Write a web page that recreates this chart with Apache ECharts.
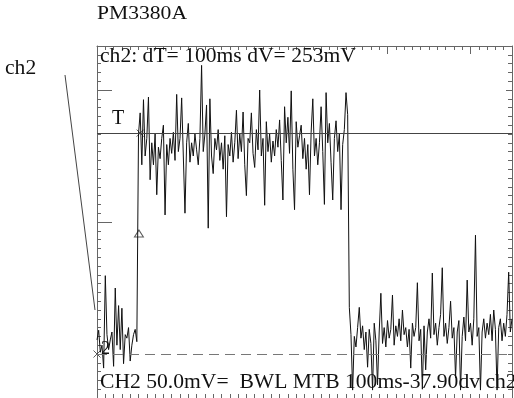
<!DOCTYPE html>
<html><head><meta charset="utf-8">
<script src="https://cdn.jsdelivr.net/npm/echarts@6/dist/echarts.min.js"></script>
<style>html,body{margin:0;padding:0;background:#fff}#c{width:514px;height:398px}</style>
</head><body><div id="c"></div>
<script>
// ---- data (mV, sampled every 4 ms, 100 ms/div, 50 mV/div) ----
const SAMPLE_MS = 4;
const preTrigger = [16, 27, 2, 10, -16, 89, 22, 5, 16, 25, -14, 75, 10, 55, 5, 52, -11, 22, 18, 30, -8, 10, 22, 28, 14];
const highLevel = [
  250, 274, 215, 289, 225, 245, 292, 198, 240, 215,
  250, 181, 235, 222, 245, 260, 158, 238, 215, 245,
  228, 252, 220, 295, 230, 245, 291, 225, 160, 240,
  262, 218, 240, 225, 250, 232, 215, 245, 328, 230,
  250, 283, 143, 290, 225, 205, 245, 232, 255, 220,
  240, 210, 248, 156, 238, 225, 252, 218, 240, 277,
  222, 250, 230, 275, 215, 180, 245, 240, 274, 228,
  212, 255, 232, 300, 225, 245, 169, 264, 230, 250,
  218, 242, 225, 255, 235, 266, 220, 175, 281, 240,
  269, 228, 299, 210, 164, 264, 235, 248, 260, 222,
  245, 210, 238, 181, 252, 290, 225, 245, 215, 240,
  281, 230, 170, 297, 240, 262, 218, 175, 245, 265,
  230, 250, 164, 238, 255, 297, 272
];
const lowLevel = [
  53, 22, -41, 20, 8, 30, 53, 18, 32, 5,
  25, -15, 28, 12, -41, 35, 15, -35, 25, 69,
  12, 30, 8, 38, 18, 28, 67, 10, 32, 20,
  40, 15, 50, 22, 30, 8, 28, -16, 35, 20,
  30, 81, 15, 28, -40, 32, -18, 25, 40, 18,
  92, 22, 35, 10, 30, 45, 98, 20, 35, 12,
  30, 60, 18, 30, -27, 25, 38, -41, 20, 42,
  15, 84, 25, 35, 10, 40, 135, 20, 30, -41,
  25, 40, 18, 35, 22, 45, 15, 50, 28, -41,
  30, 40, 15, 35, 20, 45, 93, 25, 40
];
const triggerLevelMv = 251;
const groundLevelMv = 0;
const groundMarker = [0, 0];
const cursorMarker = [104, 251];
const triggerMarker = [101, 137];
const longTopTicks = [700, 900];
const longLeftTicks = [150, 300];
const longRightTicks = [300];

const trace = preTrigger.concat(highLevel, lowLevel).map((v, i) => [i * SAMPLE_MS, v]);

const chart = echarts.init(document.getElementById('c'), null, {renderer: 'canvas'});
const tickColor = '#666';
const serif = '"Liberation Serif", "Times New Roman", serif';
function baseAxis(pos, min, max, interval, len, custom) {
  const tick = {show: true, inside: true, length: len, lineStyle: {color: tickColor, width: 1}};
  if (custom) tick.customValues = custom;
  return {
    type: 'value', position: pos, min: min, max: max, interval: interval,
    axisLine: {show: !custom, onZero: false, lineStyle: {color: tickColor, width: 1}},
    axisTick: tick,
    minorTick: {show: false},
    axisLabel: {show: false}, splitLine: {show: false}
  };
}
const xAx = (pos, len, custom) => baseAxis(pos, 0, 1000, 20, len, custom);
const yAx = (pos, len, custom) => baseAxis(pos, -50, 350, 10, len, custom);
function txt(x, y, s, size, sx) {
  return {type: 'text', x: x, y: y, scaleX: sx, z: 10,
    style: {text: s, fontFamily: serif, fontSize: size, fill: '#111', verticalAlign: 'middle', align: 'left'}};
}
chart.setOption({
  animation: false,
  backgroundColor: '#fff',
  grid: {left: 97, top: 46, right: 2, bottom: 0, containLabel: false},
  xAxis: [xAx('bottom', 4), xAx('top', 4), xAx('top', 8, longTopTicks)],
  yAxis: [yAx('left', 4), yAx('right', 4), yAx('left', 15, longLeftTicks), yAx('right', 6, longRightTicks)],
  series: [
    {
      type: 'line', data: trace, xAxisIndex: 0, yAxisIndex: 0,
      showSymbol: false, symbol: 'none',
      lineStyle: {color: '#111', width: 1},
      markLine: {
        silent: true, symbol: 'none', label: {show: false},
        data: [
          {yAxis: triggerLevelMv, lineStyle: {color: '#444', width: 1, type: 'solid'}},
          {yAxis: groundLevelMv, lineStyle: {color: '#777', width: 1, type: [10, 6]}}
        ]
      }
    },
    {
      type: 'scatter', data: [groundMarker, cursorMarker],
      symbol: 'path://M0,0L10,10M10,0L0,10', symbolSize: 7,
      itemStyle: {color: 'none', borderColor: '#333', borderWidth: 1}
    },
    {
      type: 'scatter', data: [triggerMarker],
      symbol: 'triangle', symbolSize: [9, 7],
      itemStyle: {color: '#fff', borderColor: '#333', borderWidth: 1}
    }
  ],
  graphic: [
    txt(97, 14, 'PM3380A', 18, 1.2),
    txt(5, 69, 'ch2', 20, 1.08),
    {type: 'line', shape: {x1: 65, y1: 75, x2: 95, y2: 310}, style: {stroke: '#444', lineWidth: 1}},
    txt(100, 57, 'ch2: dT= 100ms dV= 253mV', 20, 1.08),
    txt(100, 383, 'CH2 50.0mV=  BWL MTB 100ms-37.90dv ch2', 20, 1.08),
    txt(112, 119, 'T', 20, 1.0),
    txt(101, 349, '2', 18, 1.0)
  ]
});
</script></body></html>
